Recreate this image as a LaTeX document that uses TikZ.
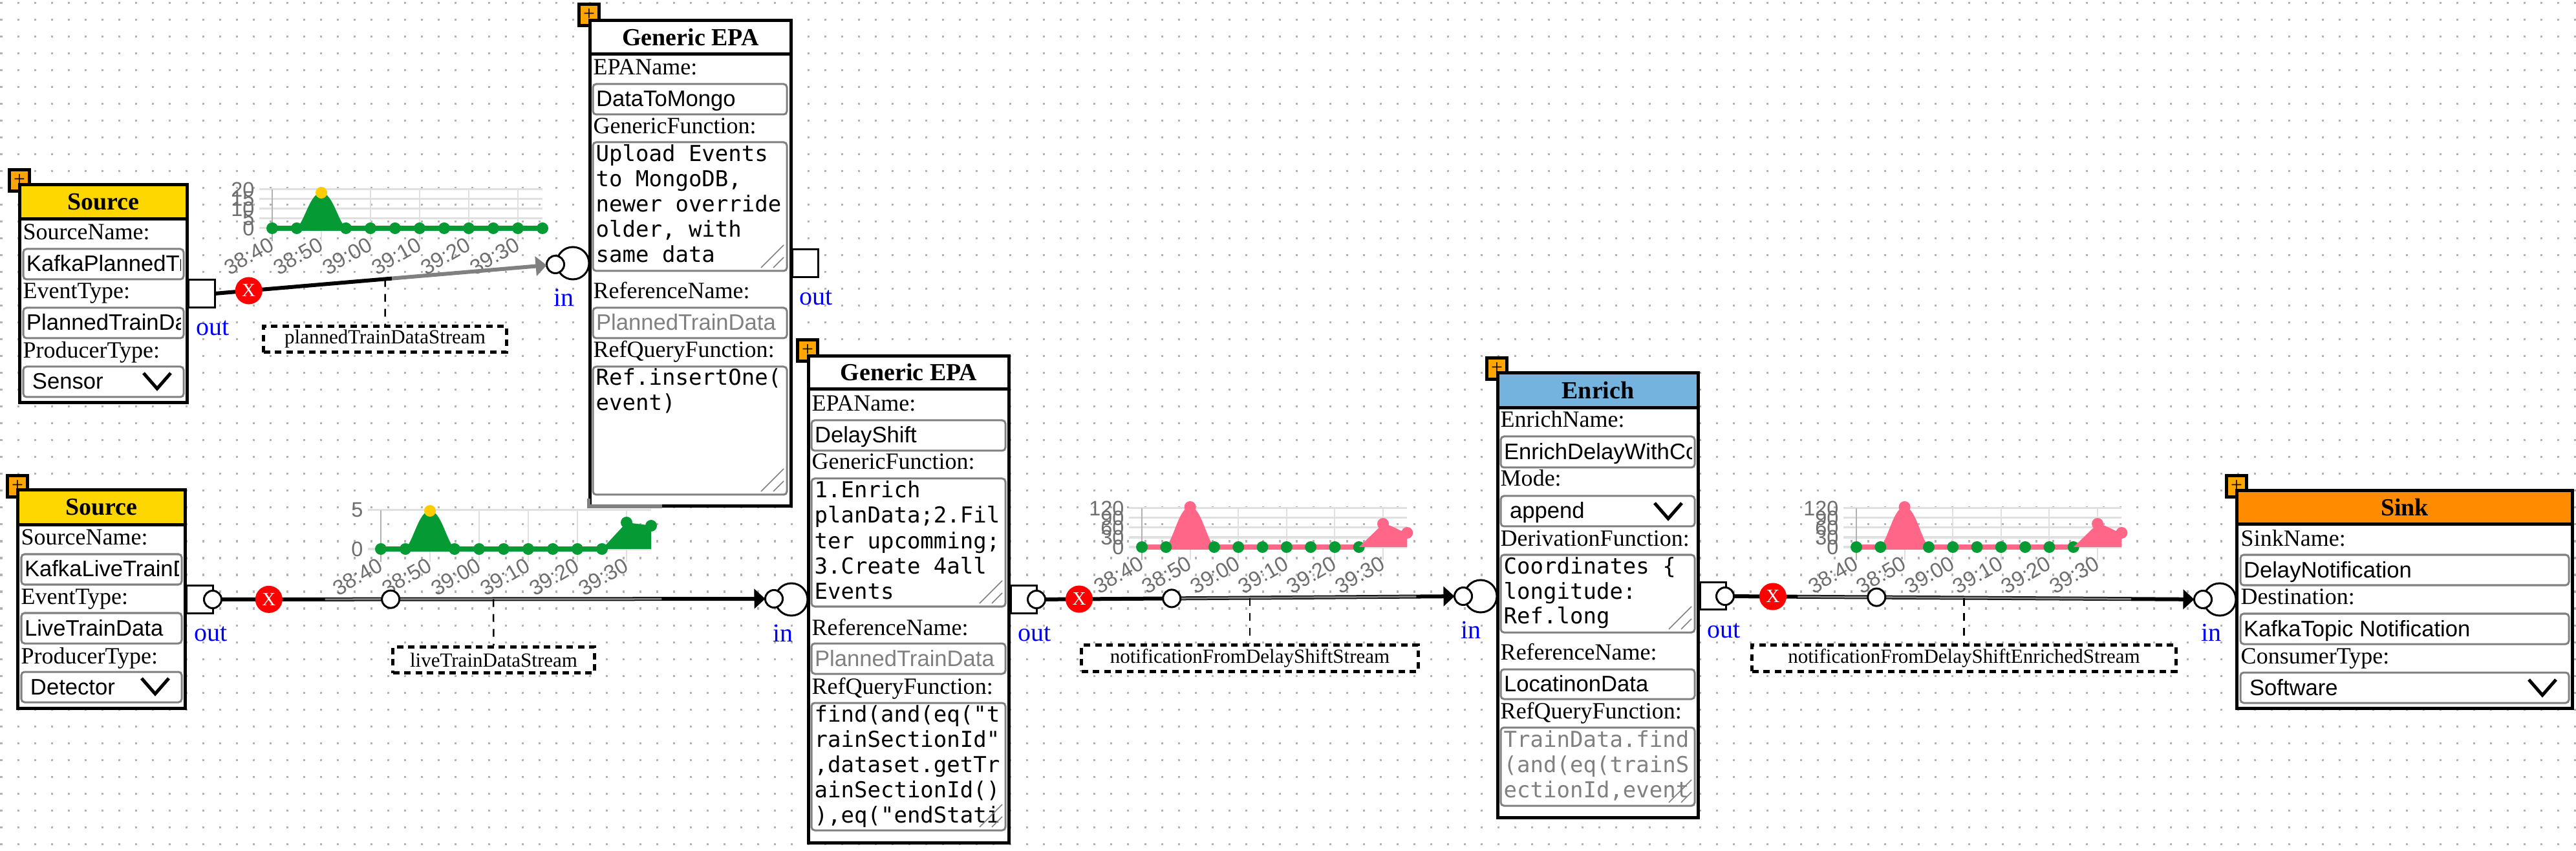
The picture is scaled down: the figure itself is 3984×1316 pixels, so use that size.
\documentclass[tikz,border=0pt]{standalone}
\usepackage{fontspec}
\setmainfont{Liberation Serif}
\setsansfont{Liberation Sans}
\setmonofont{DejaVu Sans Mono}
\usetikzlibrary{arrows.meta,calc}
\definecolor{plusorange}{HTML}{FFA500}
\definecolor{srcgold}{HTML}{FFD700}
\definecolor{enrichblue}{HTML}{74B3DD}
\definecolor{sinkorange}{HTML}{FF8C00}
\definecolor{chartgreen}{HTML}{069A35}
\definecolor{chartyellow}{HTML}{FFCC00}
\definecolor{chartpink}{HTML}{FF6688}
\definecolor{fieldgray}{HTML}{808080}
\definecolor{axisgray}{HTML}{6E6E6E}
\tikzset{
  griddot/.style={gray!60, line width=0.03cm, dash pattern=on 0.03cm off 0.23cm},
  plusbox/.style={draw=black, fill=plusorange, line width=0.05cm, minimum width=0.31cm, minimum height=0.33cm,
    inner sep=0pt, outer sep=0pt, font=\fontsize{9}{9}\selectfont},
  framebox/.style={draw=black, fill=white, line width=0.05cm, inner sep=0pt, outer sep=0pt},
  headbox/.style={framebox, font=\fontsize{10.8}{12}\selectfont\bfseries},
  rowlabel/.style={anchor=base west, inner sep=0pt, font=\fontsize{10.24}{12}\selectfont},
  fieldbox/.style={draw=fieldgray, fill=white, line width=0.03cm, rounded corners=0.05cm, inner sep=0pt, outer sep=0pt},
  fieldtext/.style={anchor=base west, inner sep=0pt, minimum width=0pt, minimum height=0pt, font=\sffamily\fontsize{9.85}{12}\selectfont},
  areatext/.style={anchor=base west, inner sep=0pt, font=\ttfamily\fontsize{9.67}{11}\selectfont},
  gripline/.style={fieldgray, line width=0.015cm},
  chevron/.style={black, line width=0.05cm},
  portbox/.style={draw=black, fill=white, line width=0.03cm, minimum width=0.40cm, minimum height=0.42cm, inner sep=0pt, outer sep=0pt},
  pinsmall/.style={circle, draw=black, fill=white, line width=0.03cm, minimum size=0.27cm, inner sep=0pt, outer sep=0pt},
  pinbig/.style={circle, draw=black, fill=white, line width=0.03cm, minimum size=0.50cm, inner sep=0pt, outer sep=0pt},
  portname/.style={text=blue, inner sep=0pt, font=\fontsize{11.38}{12}\selectfont},
  linkline/.style={black, line width=0.06cm},
  linkgray/.style={fieldgray, line width=0.03cm, yshift=0.015cm},
  tiptri/.style={-{Triangle[length=0.17cm,width=0.30cm]}},
  xmark/.style={circle, fill=red, text=white, minimum size=0.42cm, inner sep=0pt, font=\fontsize{8.25}{9}\selectfont},
  stemline/.style={black, line width=0.025cm, dash pattern=on 0.12cm off 0.11cm},
  streambox/.style={draw=black, fill=white, line width=0.05cm, dash pattern=on 0.10cm off 0.075cm, minimum height=0.40cm,
    inner sep=0pt, font=\fontsize{8.82}{10}\selectfont},
  gridline/.style={black!12, line width=0.03cm},
  axisline/.style={black!30, line width=0.02cm},
  ticklabel/.style={text=axisgray, anchor=east, inner sep=0pt, rotate=30, font=\sffamily\fontsize{9.3}{10}\selectfont},
  valuelabel/.style={text=axisgray, anchor=east, inner sep=0pt, font=\sffamily\fontsize{9.2}{10}\selectfont},
}
\begin{document}
\begin{tikzpicture}[x=0.01cm, y=-0.01cm]
  \useasboundingbox (0,0) rectangle (3984,1316);
  % dotted canvas
  \foreach \k in {0,...,50}{
    \draw[griddot] (0.5,{5+26*\k}) -- (3984,{5+26*\k});
  }
  % out ports
  \foreach \nm/\cx/\cy in {out1/312/454,out2/309/927,outmongo/1245/407,out3/1583/927,out4/2649/921.5}{
    \node[portbox] (\nm) at (\cx,\cy) {};
  }
  % blocks
  \foreach \nm/\xa/\ya/\xb/\yb/\yh/\col/\ttl/\pxx/\pyy in {
      srcplanned/28/283/292/625/341/srcgold/Source/30/279,
      srclive/25/755/289/1098/814/srcgold/Source/27/752,
      epamongo/910/29/1226/785/86/white/Generic EPA/911/23,
      epashift/1248/548/1563/1306/604/white/Generic EPA/1249/542,
      enrich/2314/574/2629/1267/633/enrichblue/Enrich/2315/570,
      sink/3457/756/3981/1098/813/sinkorange/Sink/3459/752}{
    \node[plusbox] (\nm-plus) at (\pxx,\pyy) {+};
    \node[framebox, minimum width={(\xb-\xa-5)*0.01cm}, minimum height={(\yb-\ya-5)*0.01cm}]
      (\nm) at ({(\xa+\xb)/2},{(\ya+\yb)/2}) {};
    \node[headbox, fill=\col, minimum width={(\xb-\xa-5)*0.01cm}, minimum height={(\yh-\ya-5)*0.01cm}]
      (\nm-head) at ({(\xa+\xb)/2},{(\ya+\yh)/2}) {\ttl};
  }
  % the run of the gray trace along the first EPA
  \draw[fieldgray, line width=0.05cm] (910,771) -- (910,783) -- (1024,783);
  % row labels
  \foreach \rx/\ry/\txt [count=\i] in {
      35/371/SourceName:,35/462/EventType:,35/554/ProducerType:,
      32/843/SourceName:,32/934/EventType:,32/1026/ProducerType:,
      917/116/EPAName:,917/207/GenericFunction:,917/462/ReferenceName:,917/553/RefQueryFunction:,
      1255/636/EPAName:,1255/726/GenericFunction:,1255/982/ReferenceName:,1255/1073/RefQueryFunction:,
      2320/661/EnrichName:,2320/752/Mode:,2320/844/DerivationFunction:,2320/1021/ReferenceName:,2320/1111/RefQueryFunction:,
      3465/844/SinkName:,3465/934/Destination:,3465/1026/ConsumerType:}{
    \node[rowlabel] (row\i) at (\rx,\ry) {\txt};
  }
  % one line fields
  \foreach \nm/\xa/\ya/\xb/\yb/\col/\off/\txt in {
      fplanname/36/385/284/432/black/5/KafkaPlannedTr,
      fplantype/36/476/284/523/black/5/PlannedTrainDa,
      fplanprod/36/567/284/614/black/14/Sensor,
      flivename/33/857/281/904/black/5/KafkaLiveTrainD,
      flivetype/33/948/281/995/black/5/LiveTrainData,
      fliveprod/33/1039/281/1086/black/14/Detector,
      fmongoname/917/130/1217/177/black/5/DataToMongo,
      fmongoref/917/476/1217/523/fieldgray/5/PlannedTrainData,
      fshiftname/1255/650/1555/697/black/5/DelayShift,
      fshiftref/1255/995/1555/1042/fieldgray/5/PlannedTrainData,
      fenrichname/2321/675/2621/723/black/5/EnrichDelayWithCo,
      fenrichmode/2321/767/2621/814/black/14/append,
      fenrichref/2321/1035/2621/1081/black/5/LocatinonData,
      fsinkname/3465/858/3973/905/black/5/DelayNotification,
      fsinkdest/3465/949/3973/996/black/5/KafkaTopic Notification,
      fsinkcons/3465/1040/3973/1087/black/14/Software}{
    \node[fieldbox, minimum width={(\xb-\xa)*0.01cm}, minimum height={(\yb-\ya)*0.01cm},
      path picture={
        \clip ($(path picture bounding box.west)+(0,-30)$) rectangle ($(path picture bounding box.east)+(-5,30)$);
        \node[fieldtext, text=\col] (\nm-txt) at ($(path picture bounding box.west)+(\off,11.5)$) {\txt};}]
      (\nm) at ({(\xa+\xb)/2},{(\ya+\yb)/2}) {};
  }
  \foreach \cx/\cy in {243/589,240/1061,2580/790,3932/1063}{
    \draw[chevron] ({\cx-21},{\cy-12}) -- (\cx,{\cy+12}) -- ({\cx+21},{\cy-12});
  }
  % text areas
  \foreach \nm/\xa/\ya/\xb/\yb/\ty/\col/\rows in {
      amongofn/917/220/1217/419/250/black/{{Upload Events},{to MongoDB,},{newer override},{older, with},{same data}},
      amongoq/917/567/1217/765/596/black/{{Ref.insertOne(},{event)}},
      ashiftfn/1255/740/1555/938/770/black/{{1.Enrich},{planData;2.Fil},{ter upcomming;},{3.Create 4all},{Events}},
      ashiftq/1255/1087/1555/1284/1116/black/{{find(and(eq("t},{rainSectionId"},{,dataset.getTr},{ainSectionId()},{),eq("endStati}},
      aenrichfn/2321/858/2621/978/887/black/{{Coordinates \{},{longitude:},{Ref.long}},
      aenrichq/2321/1125/2621/1246/1155/fieldgray/{{TrainData.find},{(and(eq(trainS},{ectionId,event}}}{
    \node[fieldbox, minimum width={(\xb-\xa)*0.01cm}, minimum height={(\yb-\ya)*0.01cm}]
      (\nm) at ({(\xa+\xb)/2},{(\ya+\yb)/2}) {};
    \foreach \txtline [count=\i] in \rows {
      \node[areatext, text=\col] (\nm-\i) at ({\xa+4},{\ty+(\i-1)*39}) {\txtline};
    }
    \draw[gripline] ({\xb-40},{\yb-5}) -- ({\xb-5},{\yb-40});
    \draw[gripline] ({\xb-21},{\yb-5}) -- ({\xb-5},{\yb-21});
  }
  % charts
  \foreach \ox/\oy/\st/\cw/\levs in {
      421/353/38/418/{0/0,15/5,30/10,45/15,60/20},
      589/849/38/418/{0/0,60/5},
      1766/846/37.3/410/{0/0,15/30,30/60,45/90,60/120},
      2871/846/37.3/410/{0/0,15/30,30/60,45/90,60/120}}{
    \begin{scope}[shift={(\ox,\oy)}]
      \foreach \lev/\val in \levs {
        \draw[gridline] (-20,{-\lev}) -- (\cw,{-\lev});
        \node[valuelabel] (val\ox-\val) at (-27,{-\lev}) {\val};
      }
      \foreach \tm [count=\k from 0] in {38:40,38:50,39:00,39:10,39:20,39:30}{
        \draw[gridline, line width=0.02cm] ({2*\k*\st},-60) -- ({2*\k*\st},20);
        \node[ticklabel] (tick\ox-\k) at ({2*\k*\st},22) {\tm};
      }
      \draw[axisline] (0,-60) -- (0,20);
    \end{scope}
  }
  \foreach \ox/\oy/\st/\pk/\col/\peakc/\zlast in {
      421/353/38/55/chartgreen/chartyellow/11,
      589/849/38/59/chartgreen/chartyellow/9,
      1766/846/37.3/62/chartpink/chartpink/9,
      2871/846/37.3/62/chartpink/chartpink/9}{
    \begin{scope}[shift={(\ox,\oy)}]
      \fill[\col] (\st,0) .. controls ({1.35*\st},{-0.25*\pk}) and ({1.55*\st},{-\pk}) .. ({2*\st},{-\pk})
        .. controls ({2.45*\st},{-\pk}) and ({2.65*\st},{-0.25*\pk}) .. ({3*\st},0) -- cycle;
      \draw[\col, line width=0.08cm] (0,0) -- ({\zlast*\st},0);
      \foreach \i in {0,1,3,4,...,\zlast}{
        \fill[chartgreen] ({\i*\st},0) circle[radius=0.09cm];
      }
      \fill[\peakc] ({2*\st},{-\pk}) circle[radius=0.09cm];
    \end{scope}
  }
  \foreach \ox/\oy/\st/\ya/\yb/\col in {
      589/849/38/41/36/chartgreen,
      1766/846/37.3/36/22/chartpink,
      2871/846/37.3/36/22/chartpink}{
    \begin{scope}[shift={(\ox,\oy)}]
      \fill[\col] ({9*\st},0) -- ({10*\st},{-\ya}) .. controls ({10.4*\st},{-\ya+2}) and ({10.7*\st},{-\yb-2}) .. ({11*\st},{-\yb})
        -- ({11*\st},0) -- cycle;
      \fill[\col] ({10*\st},{-\ya}) circle[radius=0.09cm];
      \fill[\col] ({11*\st},{-\yb}) circle[radius=0.09cm];
    \end{scope}
  }
  % in and out pins
  \foreach \nm/\cx/\cy/\bx/\by in {in1/859/409/886/407,in2/1197/926/1224/927,in3/2263/922/2290/922,in4/3407/927/3433/927}{
    \node[pinbig] (\nm-big) at (\bx,\by) {};
    \node[pinsmall] (\nm) at (\cx,\cy) {};
  }
  \foreach \nm/\cx/\cy in {pout2/329/927,pout3/1603/927,pout4/2668/922}{
    \node[pinsmall] (\nm) at (\cx,\cy) {};
  }
  \foreach \cx/\cy [count=\i] in {329/507,326/980,1262/460,1600/980,2666/975}{
    \node[portname] (outname\i) at (\cx,\cy) {out};
  }
  \foreach \cx/\cy [count=\i] in {872/460,1211/979,2275/974,3420/978}{
    \node[portname] (inname\i) at (\cx,\cy) {in};
  }
  % stream names
  \foreach \nm/\cx/\cy/\wdt/\txt in {
      stream1/595.5/524.5/376/plannedTrainDataStream,
      stream2/763.5/1020.5/312/liveTrainDataStream,
      stream3/1933/1018/521/notificationFromDelayShiftStream,
      stream4/3037.5/1018/656/notificationFromDelayShiftEnrichedStream}{
    \node[streambox, minimum width={\wdt*0.01cm}] (\nm) at (\cx,\cy) {\txt};
  }
  % connectors
  \coordinate (g1) at ($(out1.east)!0.52!(in1)$);
  \coordinate (j1) at ($(out1.east)!0.5!(in1)$);
  \draw[linkline] (out1.east) -- (g1);
  \draw[linkline, fieldgray, tiptri] (g1) -- (in1);
  \draw[stemline] (j1) -- (stream1.north);
  \node[xmark] (x1) at ($(out1.east)!0.1!(in1)$) {X};
  \foreach \srcn/\dstn/\k/\ga/\gb in {pout2/in2/2/0.2/0.8,pout3/in3/3/0.317/0.89,pout4/in4/4/0.152/0.85}{
    \coordinate (j\k) at ($(\srcn)!0.5!(\dstn)$);
    \draw[linkline, tiptri] (\srcn) -- (\dstn);
    \draw[linkgray] ($(\srcn)!\ga!(\dstn)$) -- ($(\srcn)!\gb!(\dstn)$);
    \draw[stemline] (j\k) -- (stream\k.north);
    \node[xmark] (x\k) at ($(\srcn)!0.1!(\dstn)$) {X};
    \node[pinsmall] (mid\k) at ($(\srcn)!0.317!(\dstn)$) {};
  }
\end{tikzpicture}
\end{document}
